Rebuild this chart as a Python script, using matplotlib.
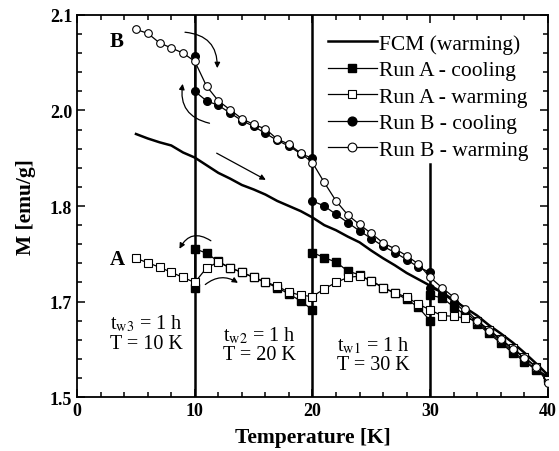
import numpy as np
import matplotlib
matplotlib.use("Agg")
import matplotlib.pyplot as plt

plt.rcParams['font.family'] = ['Liberation Serif', 'DejaVu Serif']
plt.rcParams['mathtext.fontset'] = 'stix'

# FCM (warming) curve
fcm_T = [5, 6, 7, 8, 9, 10, 11, 12, 13, 14, 15, 16, 17, 18, 19, 20, 21, 22,
         23, 24, 25, 26, 27, 28, 29, 30, 31, 32, 33, 34, 35, 36, 37, 38, 39, 40]
fcm_M = [1.913, 1.906, 1.900, 1.895, 1.884, 1.876, 1.864, 1.852, 1.843, 1.833,
         1.826, 1.818, 1.808, 1.800, 1.792, 1.782, 1.770, 1.762, 1.752, 1.743,
         1.730, 1.718, 1.707, 1.695, 1.685, 1.675, 1.665, 1.652, 1.640, 1.628,
         1.613, 1.600, 1.586, 1.570, 1.553, 1.535]

# Run A - cooling (aging stops at 30, 20, 10 K)
a_cool_T = [40, 39, 38, 37, 36, 35, 34, 33, 32, 31, 30, 30, 29, 28, 27, 26, 25,
            24, 23, 22, 21, 20, 20, 19, 18, 17, 16, 15, 14, 13, 12, 11, 10, 10]
a_cool_M = [1.530, 1.543, 1.556, 1.570, 1.585, 1.600, 1.615, 1.629, 1.642, 1.656,
            1.660, 1.620, 1.641, 1.654, 1.663, 1.672, 1.682, 1.692, 1.698, 1.712,
            1.719, 1.727, 1.637, 1.651, 1.662, 1.672, 1.680, 1.688, 1.696, 1.703,
            1.713, 1.726, 1.733, 1.672]

# Run A - warming
a_warm_T = list(range(5, 41))
a_warm_M = [1.718, 1.711, 1.704, 1.696, 1.688, 1.680, 1.703, 1.712, 1.703, 1.696,
            1.688, 1.681, 1.674, 1.665, 1.660, 1.658, 1.670, 1.680, 1.688, 1.690,
            1.683, 1.672, 1.664, 1.657, 1.646, 1.637, 1.628, 1.627, 1.624, 1.620,
            1.606, 1.591, 1.577, 1.563, 1.548, 1.527]

# Run B - cooling
b_cool_T = [40, 39, 38, 37, 36, 35, 34, 33, 32, 31, 30, 30, 29, 28, 27, 26, 25,
            24, 23, 22, 21, 20, 20, 19, 18, 17, 16, 15, 14, 13, 12, 11, 10, 10]
b_cool_M = [1.533, 1.544, 1.558, 1.572, 1.588, 1.602, 1.617, 1.634, 1.649, 1.664,
            1.672, 1.696, 1.704, 1.716, 1.727, 1.737, 1.749, 1.761, 1.774, 1.787,
            1.800, 1.808, 1.875, 1.882, 1.894, 1.903, 1.914, 1.925, 1.934, 1.946,
            1.958, 1.965, 1.980, 2.035]

# Run B - warming
b_warm_T = list(range(5, 41))
b_warm_M = [2.077, 2.071, 2.056, 2.048, 2.040, 2.027, 1.988, 1.965, 1.951, 1.937,
            1.928, 1.921, 1.905, 1.897, 1.883, 1.868, 1.837, 1.808, 1.786, 1.771,
            1.757, 1.742, 1.733, 1.722, 1.709, 1.688, 1.672, 1.657, 1.638, 1.620,
            1.604, 1.591, 1.575, 1.562, 1.547, 1.523]

y_ticks = [1.5, 1.65, 1.8, 1.95, 2.1]
y_ticklabels = ['1.5', '1.7', '1.8', '2.0', '2.1']
x_ticks = [0, 10, 20, 30, 40]

fig = plt.figure(figsize=(5.59, 4.52), dpi=100)
ax = fig.add_axes([0.138, 0.119, 0.842, 0.846])

ax.plot(fcm_T, fcm_M, '-', color='k', lw=1.8, label='FCM (warming)', zorder=2)
ax.plot(a_cool_T, a_cool_M, '-s', color='k', lw=0.9, ms=5.5, mfc='k', mec='k',
        label='Run A - cooling', zorder=3)
ax.plot(a_warm_T, a_warm_M, '-s', color='k', lw=0.9, ms=5.5, mfc='white', mec='k',
        mew=0.8, label='Run A - warming', zorder=4)
ax.plot(b_cool_T, b_cool_M, '-o', color='k', lw=0.9, ms=5.5, mfc='k', mec='k',
        label='Run B - cooling', zorder=3)
ax.plot(b_warm_T, b_warm_M, '-o', color='k', lw=0.9, ms=5.5, mfc='white', mec='k',
        mew=0.8, label='Run B - warming', zorder=4)

# aging temperature markers
ax.plot([10, 10], [1.5, 2.1], color='k', lw=1.8, zorder=1)
ax.plot([20, 20], [1.5, 2.1], color='k', lw=1.8, zorder=1)
ax.plot([30, 30], [1.5, 1.866], color='k', lw=1.8, zorder=1)

# arrows
arr = dict(arrowstyle='-|>', color='k', lw=0.9, mutation_scale=8)
ax.annotate('', xy=(11.9, 2.012), xytext=(8.93, 2.073),
            arrowprops=dict(arr, connectionstyle='arc3,rad=-0.5'))
ax.annotate('', xy=(9.01, 1.996), xytext=(11.48, 1.929),
            arrowprops=dict(arr, connectionstyle='arc3,rad=-0.5'))
ax.annotate('', xy=(16.24, 1.839), xytext=(11.65, 1.885), arrowprops=arr)
ax.annotate('', xy=(8.59, 1.729), xytext=(11.56, 1.743),
            arrowprops=dict(arr, connectionstyle='arc3,rad=0.6'))
ax.annotate('', xy=(13.86, 1.677), xytext=(10.71, 1.674),
            arrowprops=dict(arr, connectionstyle='arc3,rad=-0.4'))

ax.text(2.8, 2.059, 'B', fontsize=15, fontweight='bold', va='center')
ax.text(2.8, 1.717, 'A', fontsize=15, fontweight='bold', va='center')
ax.text(2.8, 1.601, 't$_{\\rm w3}$ = 1 h\nT = 10 K', fontsize=14.5,
        va='center', linespacing=1.0)
ax.text(12.4, 1.583, 't$_{\\rm w2}$ = 1 h\nT = 20 K', fontsize=14.5,
        va='center', linespacing=1.0)
ax.text(22.1, 1.567, 't$_{\\rm w1}$ = 1 h\nT = 30 K', fontsize=14.5,
        va='center', linespacing=1.0)

ax.set_xlim(0, 40)
ax.set_ylim(1.5, 2.1)
ax.set_xticks(x_ticks)
ax.set_xticks(np.arange(0, 41, 2), minor=True)
ax.set_yticks(y_ticks)
ax.set_yticklabels(y_ticklabels)
ax.set_yticks(np.arange(1.5, 2.1001, 0.03), minor=True)
ax.tick_params(which='both', direction='in', top=True, right=True, width=1.1,
               labelsize=13)
ax.tick_params(which='major', length=6)
ax.tick_params(which='minor', length=3.5)
for lab in ax.get_xticklabels() + ax.get_yticklabels():
    lab.set_fontweight('bold')
for sp in ax.spines.values():
    sp.set_linewidth(1.3)

ax.set_xlabel('Temperature [K]', fontsize=15.5, fontweight='bold', labelpad=6)
ax.set_ylabel('M [emu/g]', fontsize=15.5, fontweight='bold', labelpad=10)

ax.legend(loc='upper left', bbox_to_anchor=(0.50, 0.99), frameon=False,
          fontsize=15.5, handlelength=2.3, handletextpad=0.1, labelspacing=0.3,
          borderpad=0.2, markerscale=1.15)

fig.savefig('out.png', dpi=100)
